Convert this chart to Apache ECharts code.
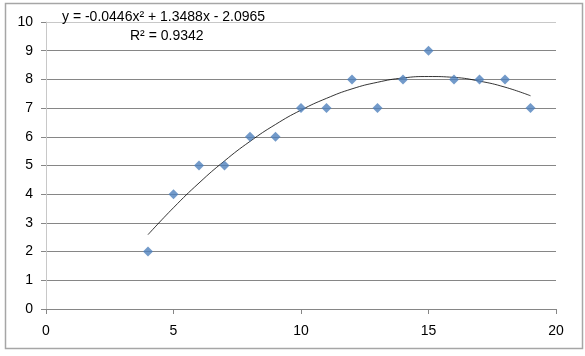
<!DOCTYPE html>
<html><head><meta charset="utf-8">
<script src="https://cdn.jsdelivr.net/npm/echarts@6/dist/echarts.min.js"></script>
<style>html,body{margin:0;padding:0;background:#fff}#c{width:585px;height:356px}</style>
</head><body><div id="c"></div>
<script>
const xValues = [4,5,6,7,8,9,10,11,12,13,14,15,16,17,18,19];
const yValues = [2,4,5,5,6,6,7,7,8,7,8,9,8,8,8,7];
// trendline values at each x
const trendX = [4,5,6,7,8,9,10,11,12,13,14,15,16,17,18,19];
const trendY = [2.59,3.53,4.39,5.16,5.84,6.43,6.93,7.34,7.67,7.90,8.05,8.10,8.07,7.94,7.73,7.43];
const eqText = 'y = -0.0446x² + 1.3488x - 2.0965';
const r2Text = 'R² = 0.9342';

const chart = echarts.init(document.getElementById('c'), null, {renderer:'canvas'});
const font = '"Liberation Sans", Arial, sans-serif';
const gridColors = ['#868686','#868686','#868686','#868686','#868686','#868686','#868686','#868686','#868686','#868686','#c8c8c8'];
chart.setOption({
  animation:false,
  graphic:[
    {type:'rect', shape:{x:5.5,y:3.5,width:577,height:345}, style:{fill:'none',stroke:'#a6a6a6',lineWidth:1.5}, silent:true, z:-1},
    {type:'text', left:62, top:10, z:10, style:{text:eqText, font:'14px '+font, fill:'#000'}},
    {type:'text', left:130, top:29, z:10, style:{text:r2Text, font:'14px '+font, fill:'#000'}}
  ],
  grid:{left:46, right:29, top:22, bottom:47},
  xAxis:{type:'value', min:0, max:20, interval:5,
    axisLine:{show:true, onZero:false, lineStyle:{color:'#868686'}},
    axisTick:{show:true, length:5, lineStyle:{color:'#868686'}},
    axisLabel:{color:'#000', fontSize:14, fontFamily:font, margin:15},
    splitLine:{show:false}},
  yAxis:{type:'value', min:0, max:10, interval:1,
    axisLine:{show:true, lineStyle:{color:'#c8c8c8'}},
    axisTick:{show:true, length:5, lineStyle:{color:'#868686'}},
    axisLabel:{color:'#000', fontSize:14, fontFamily:font, margin:13},
    splitLine:{show:true, lineStyle:{color:gridColors, width:1}}},
  series:[
    {type:'line', data:trendX.map((x,i)=>[x,trendY[i]]), smooth:true, showSymbol:false,
     lineStyle:{color:'#000', width:0.8}, z:3},
    {type:'scatter', data:xValues.map((x,i)=>[x,yValues[i]]), symbol:'diamond', symbolSize:[10,10],
     itemStyle:{color:'#4f81bd'}, z:4}
  ]
});
</script></body></html>
